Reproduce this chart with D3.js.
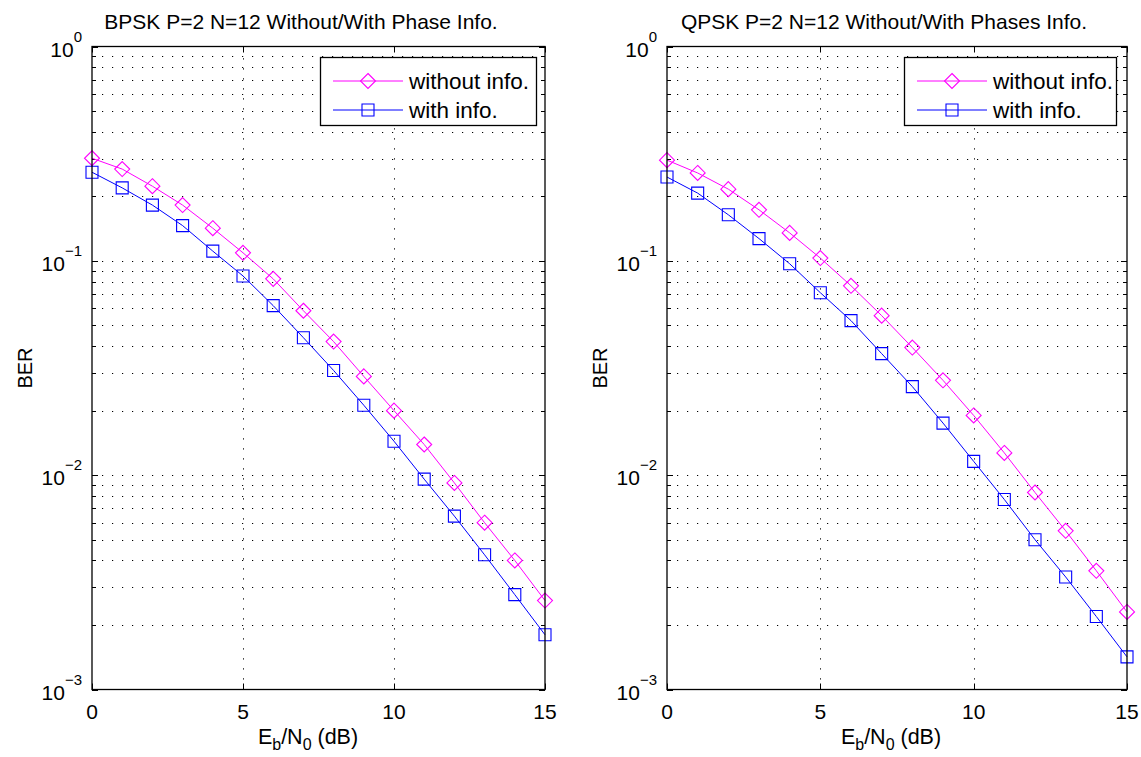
<!DOCTYPE html>
<html>
<head>
<meta charset="utf-8">
<script src="https://cdn.jsdelivr.net/npm/d3@7"></script>
<style>
  body { margin: 0; background: #fff; }
  svg { display: block; font-family: "Liberation Sans", Arial, sans-serif; }
</style>
</head>
<body>
<svg id="chart" width="1141" height="757"></svg>
<script>
(function () {
    'use strict';

    // Eb/N0 (dB)
    var ebno = [0, 1, 2, 3, 4, 5, 6, 7, 8, 9, 10, 11, 12, 13, 14, 15];

    // BPSK panel
    var bpskWithout = [0.301, 0.268, 0.223, 0.182, 0.142, 0.109, 0.0824, 0.0585,
        0.042, 0.0289, 0.020, 0.0139, 0.0092, 0.0060, 0.0040, 0.0026];
    var bpskWith = [0.259, 0.219, 0.182, 0.146, 0.111, 0.085, 0.0618, 0.0438,
        0.0308, 0.0212, 0.0144, 0.00958, 0.00644, 0.00425, 0.00277, 0.0018];

    // QPSK panel
    var qpskWithout = [0.295, 0.257, 0.216, 0.173, 0.135, 0.103, 0.0765, 0.0555,
        0.0394, 0.0277, 0.019, 0.0127, 0.0083, 0.0055, 0.00358, 0.0023];
    var qpskWith = [0.246, 0.207, 0.164, 0.127, 0.0969, 0.071, 0.0526, 0.0369,
        0.0259, 0.0175, 0.0116, 0.0077, 0.0050, 0.00335, 0.00219, 0.00142];

    var xTicks = [0, 5, 10, 15];
    var yDecades = [1e-3, 1e-2, 1e-1, 1];
    var yExponents = ['\u22123', '\u22122', '\u22121', '0'];
    var seriesNames = ['without info.', 'with info.'];
    var seriesColors = ['#ff00ff', '#0000ff'];

    var panels = [
        { title: 'BPSK P=2 N=12 Without/With Phase Info.', left: 92, right: 545, textMid: 301,
          series: [bpskWithout, bpskWith], legend: { x: 320, w: 216 } },
        { title: 'QPSK P=2 N=12 Without/With Phases Info.', left: 667, right: 1127, textMid: 884,
          series: [qpskWithout, qpskWith], legend: { x: 904, w: 212 } }
    ];

    var top = 46.5, bottom = 689.5;
    var svg = d3.select('#chart');

    var minorVals = [];
    [1e-3, 1e-2, 1e-1].forEach(function (d) {
        for (var k = 2; k <= 9; k++) { minorVals.push(d * k); }
    });

    panels.forEach(function (p) {
        var x = d3.scaleLinear().domain([0, 15]).range([p.left, p.right]);
        var y = d3.scaleLog().domain([1e-3, 1]).range([bottom, top]);
        var g = svg.append('g').attr('class', 'panel');

        // grid
        var grid = g.append('g').attr('class', 'grid')
            .attr('stroke', '#000').attr('stroke-width', 1)
            .attr('stroke-dasharray', '1.2,8.8').attr('fill', 'none');
        minorVals.concat([1e-2, 1e-1]).forEach(function (v) {
            grid.append('line')
                .attr('x1', p.left).attr('x2', p.right)
                .attr('y1', Math.round(y(v)) + 0.5).attr('y2', Math.round(y(v)) + 0.5);
        });
        [5, 10].forEach(function (v) {
            grid.append('line')
                .attr('y1', bottom).attr('y2', top)
                .attr('x1', Math.round(x(v)) + 0.5).attr('x2', Math.round(x(v)) + 0.5);
        });

        // ticks (inward, both sides)
        var ticks = g.append('g').attr('stroke', '#000').attr('stroke-width', 1);
        minorVals.forEach(function (v) {
            var yy = Math.round(y(v)) + 0.5;
            ticks.append('line').attr('x1', p.left).attr('x2', p.left + 4).attr('y1', yy).attr('y2', yy);
            ticks.append('line').attr('x1', p.right).attr('x2', p.right - 4).attr('y1', yy).attr('y2', yy);
        });
        yDecades.forEach(function (v) {
            var yy = Math.round(y(v)) + 0.5;
            ticks.append('line').attr('x1', p.left).attr('x2', p.left + 6).attr('y1', yy).attr('y2', yy);
            ticks.append('line').attr('x1', p.right).attr('x2', p.right - 6).attr('y1', yy).attr('y2', yy);
        });
        xTicks.forEach(function (v) {
            var xx = Math.round(x(v)) + 0.5;
            ticks.append('line').attr('x1', xx).attr('x2', xx).attr('y1', bottom).attr('y2', bottom - 6);
            ticks.append('line').attr('x1', xx).attr('x2', xx).attr('y1', top).attr('y2', top + 6);
        });

        // series
        p.series.forEach(function (vals, si) {
            var color = seriesColors[si];
            var line = d3.line()
                .x(function (d, i) { return x(ebno[i]); })
                .y(function (d) { return y(d); });
            g.append('path').datum(vals)
                .attr('d', line)
                .attr('fill', 'none').attr('stroke', color).attr('stroke-width', 1);
            g.selectAll('.m' + si).data(vals).enter()
                .append('path')
                .attr('class', 'm' + si)
                .attr('transform', function (d, i) { return 'translate(' + x(ebno[i]) + ',' + y(d) + ')'; })
                .attr('d', si === 0 ? 'M0,-7.5L7.5,0L0,7.5L-7.5,0Z' : 'M-6,-6H6V6H-6Z')
                .attr('fill', 'none').attr('stroke', color).attr('stroke-width', 1.1);
        });

        // frame
        g.append('rect')
            .attr('x', p.left).attr('y', top)
            .attr('width', p.right - p.left).attr('height', bottom - top)
            .attr('fill', 'none').attr('stroke', '#000').attr('stroke-width', 1.3);

        // tick labels
        xTicks.forEach(function (v) {
            g.append('text')
                .attr('x', x(v)).attr('y', bottom + 29)
                .attr('text-anchor', 'middle')
                .attr('font-size', 21)
                .text(v);
        });
        yDecades.forEach(function (v, i) {
            var t = g.append('text')
                .attr('x', p.left - 10).attr('y', y(v) + 10)
                .attr('text-anchor', 'end')
                .attr('font-size', 21);
            t.append('tspan').text('10');
            t.append('tspan').attr('dy', -15).attr('font-size', 15).text(yExponents[i]);
        });

        // title
        g.append('text')
            .attr('x', p.textMid).attr('y', 29)
            .attr('text-anchor', 'middle')
            .attr('font-size', 21)
            .text(p.title);

        // x label
        var xl = g.append('text')
            .attr('x', p.textMid + 7).attr('y', 744)
            .attr('text-anchor', 'middle')
            .attr('font-size', 21.5);
        xl.append('tspan').text('E');
        xl.append('tspan').attr('dy', 6).attr('font-size', 16).text('b');
        xl.append('tspan').attr('dy', -6).text('/N');
        xl.append('tspan').attr('dy', 6).attr('font-size', 16).text('0');
        xl.append('tspan').attr('dy', -6).text(' (dB)');

        // y label
        g.append('text')
            .attr('transform', 'translate(' + (p.left - 60) + ',' + ((top + bottom) / 2) + ') rotate(-90)')
            .attr('text-anchor', 'middle')
            .attr('font-size', 20)
            .text('BER');

        // legend
        var lg = g.append('g').attr('class', 'legend');
        lg.append('rect')
            .attr('x', p.legend.x + 0.5).attr('y', 57.5)
            .attr('width', p.legend.w).attr('height', 68)
            .attr('fill', '#fff').attr('stroke', '#000').attr('stroke-width', 1.3);
        seriesNames.forEach(function (name, si) {
            var ly = 81 + si * 29;
            var item = lg.append('g').attr('transform', 'translate(' + p.legend.x + ',' + ly + ')');
            item.append('line').attr('x1', 13).attr('x2', 83).attr('y1', 0).attr('y2', 0)
                .attr('stroke', seriesColors[si]).attr('stroke-width', 1);
            item.append('path')
                .attr('transform', 'translate(48,0)')
                .attr('d', si === 0 ? 'M0,-7.5L7.5,0L0,7.5L-7.5,0Z' : 'M-6,-6H6V6H-6Z')
                .attr('fill', 'none').attr('stroke', seriesColors[si]).attr('stroke-width', 1.1);
            item.append('text').attr('x', 89).attr('y', 8)
                .attr('font-size', 22.5).text(name);
        });
    });
})();
</script>
</body>
</html>
